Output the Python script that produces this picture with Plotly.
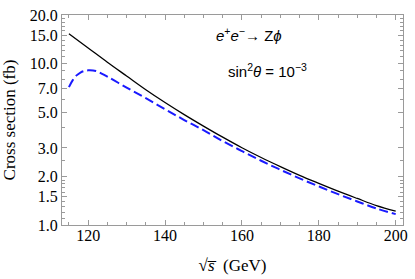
import plotly.graph_objects as go

# Data
sqrt_s_black = [115, 120, 125, 130, 135, 140, 145, 150, 155, 160, 165, 170, 175, 180, 185, 190, 195, 200]
xsec_black = [15.3, 12.5, 10.2, 8.38, 6.89, 5.74, 4.83, 4.10, 3.50, 3.01, 2.62, 2.30, 2.03, 1.81, 1.62, 1.46, 1.32, 1.22]

sqrt_s_blue = [115, 116, 117, 118, 119, 120, 122, 125, 130, 135, 140, 145, 150, 155, 160, 165, 170, 175, 180, 185, 190, 195, 200]
xsec_blue = [7.15, 7.9, 8.45, 8.8, 9.0, 9.08, 9.0, 8.3, 7.1, 6.1, 5.22, 4.47, 3.87, 3.31, 2.87, 2.50, 2.20, 1.945, 1.734, 1.552, 1.399, 1.265, 1.168]

x_ticks = [120, 140, 160, 180, 200]
x_minor = [115, 125, 130, 135, 145, 150, 155, 165, 170, 175, 185, 190, 195]
y_ticks = [1.0, 1.5, 2.0, 3.0, 5.0, 7.0, 10.0, 15.0, 20.0]
y_tick_labels = ["1.0", "1.5", "2.0", "3.0", "5.0", "7.0", "10.0", "15.0", "20.0"]
y_minor = [1.1, 1.2, 1.3, 1.4, 1.6, 1.7, 1.8, 1.9, 2.5, 4.0, 6.0, 8.0, 9.0, 11, 12, 13, 14, 16, 17, 18, 19]

serif = "Liberation Serif, Times New Roman, serif"
sans = "Liberation Sans, Arial, sans-serif"
axcol = "#9a9a9a"

fig = go.Figure()
fig.add_trace(go.Scatter(x=sqrt_s_black, y=xsec_black, mode="lines",
                         line=dict(color="black", width=1.3, shape="spline"),
                         showlegend=False))
fig.add_trace(go.Scatter(x=sqrt_s_blue, y=xsec_blue, mode="lines",
                         line=dict(color="#1a1aff", width=2, dash="9px,4px", shape="spline"),
                         showlegend=False))

fig.update_layout(
    width=415, height=279,
    margin=dict(l=62, r=7, t=11, b=54),
    paper_bgcolor="white", plot_bgcolor="white",
    xaxis=dict(range=[113.2, 201.9], tickvals=x_ticks, ticktext=[str(v) for v in x_ticks],
               ticks="inside", ticklen=5, tickcolor=axcol, tickwidth=1,
               showline=True, linecolor=axcol, linewidth=1, mirror="ticks",
               showgrid=False, zeroline=False, ticklabeloverflow="allow",
               ticklabelstandoff=-4,
               tickfont=dict(family=serif, size=16, color="black"),
               minor=dict(tickvals=x_minor, ticks="inside", ticklen=3, tickcolor=axcol),
               title=dict(text="√<i>s̅</i>  (GeV)", font=dict(family=serif, size=17, color="black"), standoff=15)),
    yaxis=dict(type="log", range=[0, 1.30103], tickvals=y_ticks, ticktext=y_tick_labels,
               ticks="inside", ticklen=5, tickcolor=axcol, tickwidth=1,
               showline=True, linecolor=axcol, linewidth=1, mirror="ticks",
               showgrid=False, zeroline=False,
               tickfont=dict(family=serif, size=16, color="black"),
               minor=dict(tickvals=y_minor, ticks="inside", ticklen=3, tickcolor=axcol),
               title=dict(text="Cross section (fb)", font=dict(family=serif, size=17, color="black"), standoff=9)),
    annotations=[
        dict(text="<i>e</i><sup>+</sup><i>e</i><sup>−</sup>→ Z<i>ϕ</i>", xref="paper", yref="paper",
             x=0.445, y=0.906, xanchor="left", yanchor="middle", showarrow=False,
             font=dict(family=sans, size=15, color="black")),
        dict(text="sin<sup>2</sup><i>θ</i> = 10<sup>−3</sup>", xref="paper", yref="paper",
             x=0.48, y=0.738, xanchor="left", yanchor="middle", showarrow=False,
             font=dict(family=sans, size=15, color="black")),
    ],
)

fig.write_html("out.html", config={"displayModeBar": False},
               post_script="document.body.style.margin='0';document.body.style.padding='0';")
